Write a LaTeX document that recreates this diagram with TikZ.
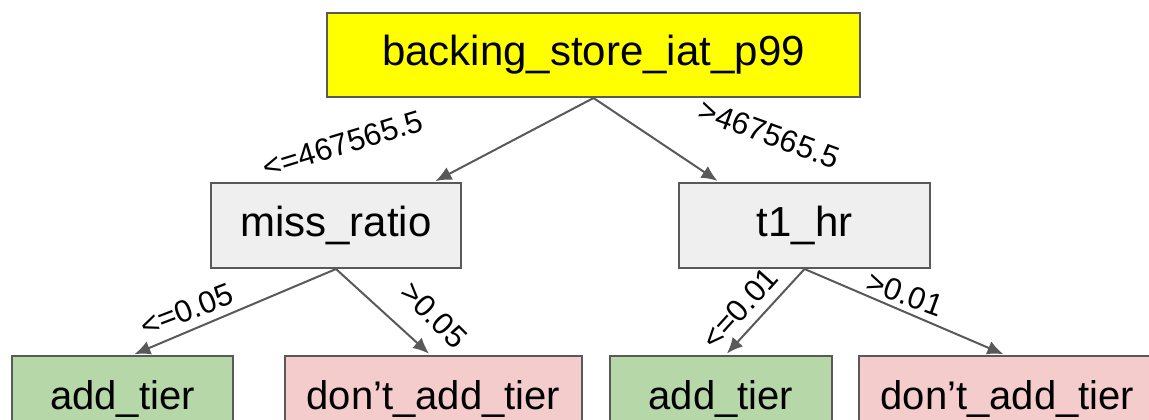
\documentclass[tikz,border=0pt]{standalone}
\usepackage{fontspec}
\setmainfont{Liberation Sans}
\usetikzlibrary{arrows.meta}
\definecolor{boxline}{HTML}{595959}
\definecolor{rootfill}{HTML}{FFFF00}
\definecolor{splitfill}{HTML}{EFEFEF}
\definecolor{addfill}{HTML}{B6D7A8}
\definecolor{skipfill}{HTML}{F4CCCC}
\begin{document}
\begin{tikzpicture}[x=0.5pt,y=-0.5pt]
	    \tikzset{>={Latex[length=8pt,width=7pt]}}
	    \tikzset{box/.style={draw=boxline,line width=1pt,inner sep=0pt,minimum height=42.5pt,font=\fontsize{21}{25}\selectfont}}
	    \tikzset{leaf/.style={box,font=\fontsize{20}{24}\selectfont}}
	    \tikzset{cond/.style={inner sep=0pt,font=\fontsize{15.5}{18}\selectfont}}
	    \tikzset{edge/.style={->,draw=boxline,line width=1pt,shorten >=1pt}}
	    \useasboundingbox (0,0) rectangle (1149,419);
	    % tree nodes
	    \node (root) at (593.5,55) [box,fill=rootfill,minimum width=266.5pt,minimum height=42pt] {backing\_store\_iat\_p99};
	    \node (miss) at (336,225.5) [box,fill=splitfill,minimum width=125pt] {miss\_ratio};
	    \node (hr) at (804.5,225.5) [box,fill=splitfill,minimum width=125.5pt] {t1\_hr};
	    \node (add1) at (122.5,398.5) [leaf,fill=addfill,minimum width=110.5pt] {add\_tier};
	    \node (skip1) at (433.5,398.5) [leaf,fill=skipfill,minimum width=148.5pt] {don’t\_add\_tier};
	    \node (add2) at (721,398.5) [leaf,fill=addfill,minimum width=111pt] {add\_tier};
	    \node (skip2) at (1007.5,398.5) [leaf,fill=skipfill,minimum width=148.5pt] {don’t\_add\_tier};
	    % splits
	    \draw [edge] (root.south) -- (miss.24.8);
	    \draw [edge] (root.south) -- (hr.153);
	    \draw [edge] (miss.south) -- (add1.77.4);
	    \draw [edge] (miss.south) -- (skip1.94.7);
	    \draw [edge] (hr.south) -- (add2.84.6);
	    \draw [edge] (hr.south) -- (skip2.93.4);
	    % thresholds
	    \node (c1) at (343,144) [cond,rotate=17] {<=467565.5};
	    \node (c2) at (769,134) [cond,rotate=-20] {>467565.5};
	    \node (c3) at (187,310) [cond,rotate=21] {<=0.05};
	    \node (c4) at (434,315) [cond,rotate=-45] {>0.05};
	    \node (c5) at (740,308) [cond,rotate=48] {<=0.01};
	    \node (c6) at (905,294) [cond,rotate=-20] {>0.01};
	\end{tikzpicture}
\end{document}
